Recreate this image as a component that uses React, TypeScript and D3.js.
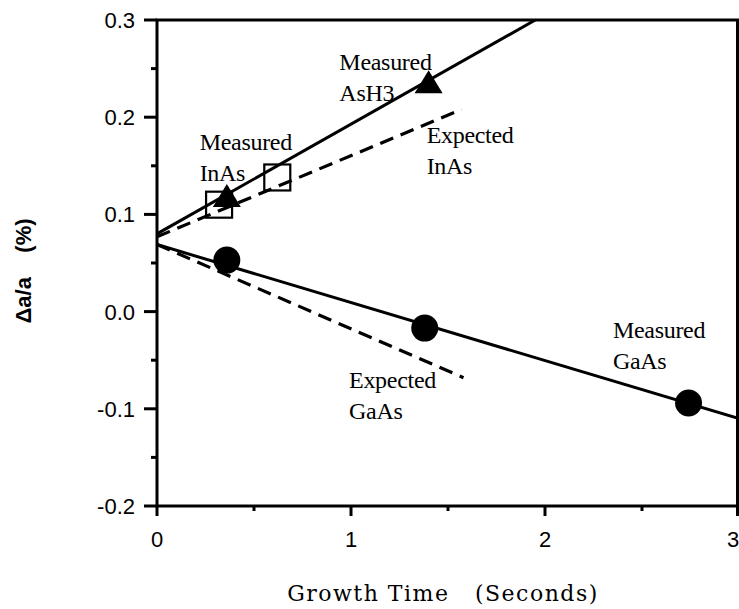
import { useEffect, useRef } from "react";
import * as d3 from "d3";

// measured / expected lines, [time, value] end points
const measuredAsH3Line = [[0, 0.08], [1.95, 0.3]];
const expectedInAsLine = [[0, 0.077], [1.57, 0.208]];
const measuredGaAsLine = [[0, 0.069], [3, -0.11]];
const expectedGaAsLine = [[0, 0.069], [1.58, -0.068]];

const trianglePoints = [[0.36, 0.118], [1.4, 0.235]];
const squarePoints = [[0.32, 0.11], [0.62, 0.138]];
const circlePoints = [[0.36, 0.053], [1.38, -0.017], [2.74, -0.094]];

const xTicks = [0, 1, 2, 3];
const xMinorTicks = [0.5, 1.5, 2.5];
const yTicks = [0.3, 0.2, 0.1, 0.0, -0.1, -0.2];
const yTickLabels = ["0.3", "0.2", "0.1", "0.0", "-0.1", "-0.2"];
const yMinorTicks = [0.25, 0.15, 0.05, -0.05, -0.15];

// annotation text anchored at its first baseline
const annotations = [
  { x: 0.22, y: 0.166, lines: ["Measured", "InAs"] },
  { x: 0.94, y: 0.249, lines: ["Measured", "AsH3"] },
  { x: 1.39, y: 0.173, lines: ["Expected", "InAs"] },
  { x: 2.35, y: -0.027, lines: ["Measured", "GaAs"] },
  { x: 0.99, y: -0.079, lines: ["Expected", "GaAs"] },
];

const App = () => {
  const svgRef = useRef(null);
  const width = 739;
  const height = 609;

  useEffect(() => {
    const svg = d3.select(svgRef.current);
    svg.selectAll("*").remove();

    const x = d3.scaleLinear().domain([0, 3]).range([157, 739]);
    const y = d3.scaleLinear().domain([-0.2, 0.3]).range([506, 20]);

    const line = d3
      .line()
      .x((d) => x(d[0]))
      .y((d) => y(d[1]));

    const plot = svg.append("g");
    const sw = 3;

    // frame
    plot
      .append("rect")
      .attr("x", x(0))
      .attr("y", y(0.3))
      .attr("width", x(3) - x(0) - 1.5)
      .attr("height", y(-0.2) - y(0.3))
      .attr("fill", "none")
      .attr("stroke", "#000")
      .attr("stroke-width", sw);

    // y ticks
    plot
      .selectAll(".ytick")
      .data(yTicks)
      .enter()
      .append("line")
      .attr("x1", x(0) - 13)
      .attr("x2", x(0))
      .attr("y1", (d) => y(d))
      .attr("y2", (d) => y(d))
      .attr("stroke", "#000")
      .attr("stroke-width", sw);
    plot
      .selectAll(".yminor")
      .data(yMinorTicks)
      .enter()
      .append("line")
      .attr("x1", x(0) - 6)
      .attr("x2", x(0))
      .attr("y1", (d) => y(d))
      .attr("y2", (d) => y(d))
      .attr("stroke", "#000")
      .attr("stroke-width", sw);
    plot
      .selectAll(".ylabel")
      .data(yTicks)
      .enter()
      .append("text")
      .attr("x", x(0) - 22)
      .attr("y", (d) => y(d))
      .attr("dy", "0.36em")
      .attr("text-anchor", "end")
      .attr("font-family", "Liberation Sans, Arial, sans-serif")
      .attr("font-size", 22)
      .text((d, i) => yTickLabels[i]);

    // x ticks
    plot
      .selectAll(".xtick")
      .data(xTicks)
      .enter()
      .append("line")
      .attr("x1", (d) => x(d) - (d === 3 ? 1.5 : 0))
      .attr("x2", (d) => x(d) - (d === 3 ? 1.5 : 0))
      .attr("y1", y(-0.2))
      .attr("y2", y(-0.2) + 10)
      .attr("stroke", "#000")
      .attr("stroke-width", sw);
    plot
      .selectAll(".xminor")
      .data(xMinorTicks)
      .enter()
      .append("line")
      .attr("x1", (d) => x(d))
      .attr("x2", (d) => x(d))
      .attr("y1", y(-0.2))
      .attr("y2", y(-0.2) + 5)
      .attr("stroke", "#000")
      .attr("stroke-width", sw);
    plot
      .selectAll(".xlabel")
      .data(xTicks)
      .enter()
      .append("text")
      .attr("x", (d) => x(d) - (d === 3 ? 6 : 0))
      .attr("y", 547)
      .attr("text-anchor", "middle")
      .attr("font-family", "Liberation Sans, Arial, sans-serif")
      .attr("font-size", 22)
      .text((d) => d);

    // axis titles
    svg
      .append("text")
      .attr("x", 443)
      .attr("y", 601)
      .attr("text-anchor", "middle")
      .attr("font-family", "DejaVu Serif, serif")
      .attr("font-size", 22)
      .attr("letter-spacing", 1.5)
      .attr("xml:space", "preserve")
      .text("Growth Time   (Seconds)");
    svg
      .append("text")
      .attr("transform", "translate(31,271) rotate(-90)")
      .attr("text-anchor", "middle")
      .attr("font-family", "Liberation Sans, Arial, sans-serif")
      .attr("font-weight", "bold")
      .attr("font-size", 22)
      .attr("xml:space", "preserve")
      .text("\u0394a/a    (%)");

    // lines
    svg
      .append("clipPath")
      .attr("id", "plotclip")
      .append("rect")
      .attr("x", x(0))
      .attr("y", y(0.3))
      .attr("width", x(3) - x(0))
      .attr("height", y(-0.2) - y(0.3));

    const data = svg.append("g").attr("clip-path", "url(#plotclip)");
    [measuredAsH3Line, measuredGaAsLine].forEach((pts) =>
      data
        .append("path")
        .attr("d", line(pts))
        .attr("fill", "none")
        .attr("stroke", "#000")
        .attr("stroke-width", sw)
    );
    [expectedInAsLine, expectedGaAsLine].forEach((pts) =>
      data
        .append("path")
        .attr("d", line(pts))
        .attr("fill", "none")
        .attr("stroke", "#000")
        .attr("stroke-width", 3.2)
        .attr("stroke-dasharray", "14 8")
    );

    // markers
    data
      .selectAll(".sq")
      .data(squarePoints)
      .enter()
      .append("rect")
      .attr("x", (d) => x(d[0]) - 13)
      .attr("y", (d) => y(d[1]) - 13)
      .attr("width", 26)
      .attr("height", 26)
      .attr("fill", "none")
      .attr("stroke", "#000")
      .attr("stroke-width", 2.2);
    data
      .selectAll(".tri")
      .data(trianglePoints)
      .enter()
      .append("path")
      .attr("transform", (d) => `translate(${x(d[0])},${y(d[1])})`)
      .attr("d", "M0,-13 L14,10 L-14,10 Z")
      .attr("fill", "#000");
    data
      .selectAll(".dot")
      .data(circlePoints)
      .enter()
      .append("circle")
      .attr("cx", (d) => x(d[0]))
      .attr("cy", (d) => y(d[1]))
      .attr("r", 13.5)
      .attr("fill", "#000");

    // annotations
    annotations.forEach((a) => {
      const t = svg
        .append("text")
        .attr("x", x(a.x))
        .attr("y", y(a.y))
        .attr("font-family", "Liberation Serif, Times New Roman, serif")
        .attr("font-size", 24)
        .attr("letter-spacing", -0.3);
      a.lines.forEach((l, i) =>
        t
          .append("tspan")
          .attr("x", x(a.x))
          .attr("dy", i === 0 ? 0 : 31)
          .text(l)
      );
    });
  }, []);

  return (
    <svg
      ref={svgRef}
      width={width}
      height={height}
      style={{ position: "absolute", left: 0, top: 0, background: "#fff" }}
    />
  );
};

export default App;
